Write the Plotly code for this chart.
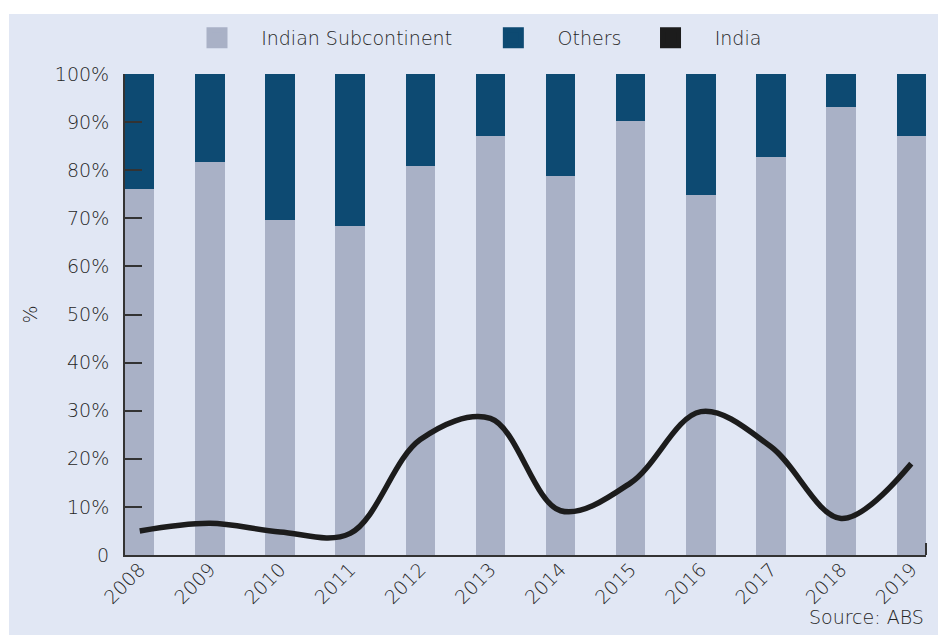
import plotly.graph_objects as go

years = ["2008", "2009", "2010", "2011", "2012", "2013", "2014", "2015", "2016", "2017", "2018", "2019"]
subcontinent = [76.1, 81.8, 69.6, 68.4, 80.9, 87.2, 78.8, 90.3, 74.8, 82.8, 93.1, 87.2]
others = [round(100 - v, 1) for v in subcontinent]
india = [5.0, 6.6, 4.8, 4.5, 24.0, 28.4, 9.2, 15.0, 29.8, 22.5, 7.6, 19.0]
y_ticks = [0, 10, 20, 30, 40, 50, 60, 70, 80, 90, 100]
y_ticktext = ["0", "10%", "20%", "30%", "40%", "50%", "60%", "70%", "80%", "90%", "100%"]
legend_names = ["Indian Subcontinent", "Others", "India"]

C_SUB = "#a9b1c6"
C_OTH = "#0d4a72"
C_IND = "#1c1c1c"
C_BG = "#e1e7f4"
C_TXT = "#262626"
FONT = "DejaVu Sans, Verdana, sans-serif"
FS = 19
FW = 300

# page has an 8px body margin; lay the figure out so that it lands on page pixels
OFF = 8
W, H = 946 - OFF, 635 - OFF
ML, MT = 125 - OFF, 73 - OFF
MR = W - (926 - OFF)
MB = H - (555 - OFF)
pw, ph = W - ML - MR, H - MT - MB


def px_x(p):
    return (p - OFF - ML) / pw


def px_y(p):
    return (H - MB - (p - OFF)) / ph


fig = go.Figure()
fig.add_trace(go.Bar(x=years, y=subcontinent, marker=dict(color=C_SUB, line=dict(width=0)),
                     width=0.42, showlegend=False, name="Indian Subcontinent"))
fig.add_trace(go.Bar(x=years, y=others, marker=dict(color=C_OTH, line=dict(width=0)),
                     width=0.42, showlegend=False, name="Others"))
fig.add_trace(go.Scatter(x=years, y=india, mode="lines",
                         line=dict(color=C_IND, width=5.5, shape="spline", smoothing=1.0),
                         showlegend=False, name="India"))

NB = "\u00a0"
trail = [6, 4, 0]
for nm, c, t in zip(legend_names, [C_SUB, C_OTH, C_IND], trail):
    fig.add_trace(go.Scatter(x=[None], y=[None], mode="markers", name=NB * 4 + nm + NB * t,
                             marker=dict(symbol="square", size=16, color=c, line=dict(color=c, width=5))))

tf = dict(family=FONT, size=FS, color=C_TXT, weight=FW)

fig.update_layout(
    width=W, height=H,
    margin=dict(l=ML, r=MR, t=MT, b=MB),
    barmode="stack",
    paper_bgcolor="white",
    plot_bgcolor="rgba(0,0,0,0)",
    font=tf,
    legend=dict(orientation="h", x=px_x(197), xanchor="left", y=px_y(38), yanchor="middle",
                itemsizing="trace", traceorder="normal", font=tf,
                bgcolor="rgba(0,0,0,0)", itemclick=False),
    xaxis=dict(type="category", range=[-0.21, 11.21], tickangle=-45, showgrid=False,
               showline=True, linecolor="#333333", linewidth=2, ticks="",
               ticklabelstandoff=-6, tickfont=tf, fixedrange=True),
    yaxis=dict(range=[0, 100], tickvals=y_ticks, ticktext=y_ticktext, showgrid=False,
               showline=True, linecolor="#333333", linewidth=2, ticks="inside", ticklen=17,
               tickwidth=2, tickcolor="#333333", ticklabelstandoff=10, zeroline=False,
               tickfont=tf, title=dict(text="%", font=tf, standoff=12), fixedrange=True),
    shapes=[
        dict(type="rect", xref="paper", yref="paper", x0=px_x(9), x1=px_x(960), y0=px_y(650), y1=px_y(13),
             fillcolor=C_BG, line=dict(width=0), layer="below"),
        dict(type="line", xref="paper", yref="paper", x0=1, x1=1, y0=0, y1=px_y(543),
             line=dict(color="#333333", width=2)),
    ],
    annotations=[
        dict(text="Source: ABS", xref="paper", yref="paper", x=px_x(926), y=px_y(617),
             xanchor="right", yanchor="middle", showarrow=False, font=tf),
    ],
)

fig.write_html("out.html")
